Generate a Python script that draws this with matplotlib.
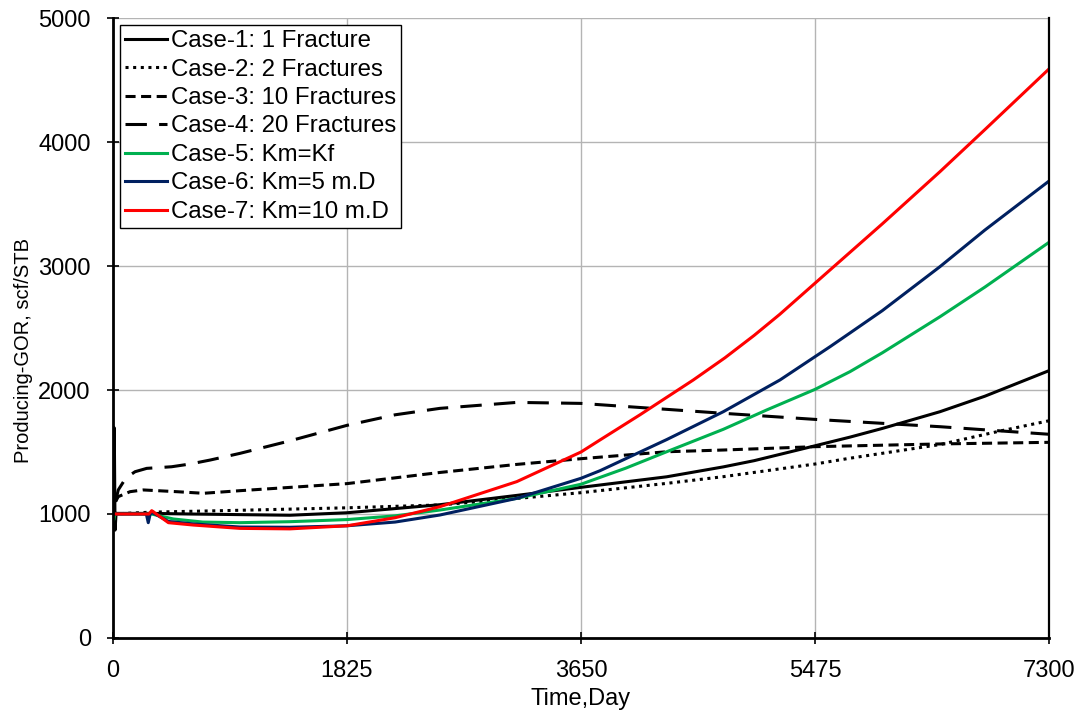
import matplotlib
matplotlib.use('Agg')
import matplotlib.pyplot as plt

plt.rcParams['font.family'] = ['Liberation Sans', 'DejaVu Sans']

# Case-1: 1 Fracture (solid black, with the start-up spike)
t_case1 = [0, 6, 10, 16, 24, 300, 600, 990, 1380, 1825, 2550, 3149, 3650,
           4318, 4760, 5000, 5475, 5748, 6000, 6450, 6800, 7300]
gor_case1 = [1000, 1700, 1690, 870, 1005, 1005, 1000, 995, 990, 1010, 1075,
             1150, 1215, 1300, 1380, 1430, 1550, 1620, 1690, 1825, 1950, 2156]

# Case-2: 2 Fractures (dotted)
t_case2 = [0, 300, 990, 1825, 2550, 3149, 3650, 4318, 4760, 5475, 5748, 6450,
           6900, 7300]
gor_case2 = [1000, 1015, 1030, 1050, 1073, 1125, 1172, 1247, 1301, 1403, 1450,
             1560, 1665, 1752]

# Case-3: 10 Fractures (short dash)
t_case3 = [20, 41, 133, 236, 497, 705, 990, 1825, 2550, 3149, 3650, 4318,
           4760, 5475, 6450, 7300]
gor_case3 = [1100, 1140, 1180, 1194, 1180, 1167, 1188, 1245, 1335, 1400, 1446,
             1502, 1516, 1543, 1565, 1578]

# Case-4: 20 Fractures (long dash)
t_case4 = [20, 41, 100, 172, 263, 457, 600, 757, 990, 1380, 1825, 2200, 2550,
           3149, 3650, 4318, 4760, 5475, 6450, 7300]
gor_case4 = [1100, 1194, 1290, 1341, 1368, 1381, 1403, 1435, 1489, 1590, 1715,
             1800, 1852, 1900, 1892, 1844, 1812, 1763, 1704, 1643]

# Case-5: Km=Kf (green)
t_case5 = [0, 5, 15, 300, 470, 700, 990, 1380, 1825, 2200, 2550, 3149, 3650,
           4000, 4318, 4760, 5098, 5475, 5748, 6000, 6450, 6800, 7300]
gor_case5 = [1000, 950, 1000, 1000, 960, 935, 930, 938, 955, 985, 1032, 1126,
             1240, 1370, 1502, 1683, 1839, 2005, 2148, 2300, 2591, 2830, 3191]

# Case-6: Km=5 m.D (navy)
t_case6 = [0, 260, 275, 290, 310, 432, 626, 990, 1380, 1825, 2200, 2550, 3149,
           3650, 3798, 4318, 4760, 5202, 5592, 5748, 6000, 6450, 6800, 7300]
gor_case6 = [1000, 1000, 930, 1000, 1010, 940, 920, 895, 893, 905, 935, 992,
             1126, 1288, 1349, 1600, 1825, 2081, 2349, 2460, 2640, 2995, 3290,
             3685]

# Case-7: Km=10 m.D (red)
t_case7 = [0, 280, 302, 432, 626, 990, 1380, 1825, 2200, 2550, 3149, 3650,
           3798, 4110, 4526, 4773, 5000, 5200, 5592, 6000, 6450, 6800, 7300]
gor_case7 = [1000, 1000, 1027, 930, 911, 884, 880, 905, 970, 1059, 1261, 1500,
             1597, 1800, 2081, 2260, 2440, 2610, 2968, 3340, 3761, 4100, 4589]

x_ticks = [0, 1825, 3650, 5475, 7300]
y_ticks = [0, 1000, 2000, 3000, 4000, 5000]

fig = plt.figure(figsize=(10.83, 7.15), dpi=100)
ax = fig.add_axes([113 / 1083, 1 - 638 / 715, 936 / 1083, 620 / 715])

lw = 2.2
ax.plot(t_case1, gor_case1, color='black', lw=lw, label='Case-1: 1 Fracture')
ax.plot(t_case2, gor_case2, color='black', lw=lw, linestyle=(0, (1, 1.5)),
        label='Case-2: 2 Fractures')
ax.plot(t_case3, gor_case3, color='black', lw=lw, linestyle=(0, (3.3, 1.8)),
        label='Case-3: 10 Fractures')
ax.plot(t_case4, gor_case4, color='black', lw=lw, linestyle=(0, (7, 4)),
        label='Case-4: 20 Fractures')
ax.plot(t_case5, gor_case5, color='#00B050', lw=lw, label='Case-5: Km=Kf')
ax.plot(t_case6, gor_case6, color='#002060', lw=lw, label='Case-6: Km=5 m.D')
ax.plot(t_case7, gor_case7, color='#FF0000', lw=lw, label='Case-7: Km=10 m.D')

ax.set_xlim(0, 7300)
ax.set_ylim(0, 5000)
ax.set_xticks(x_ticks)
ax.set_yticks(y_ticks)
ax.grid(True, color='#B4B4B4', lw=1.0)
ax.set_axisbelow(True)

for side in ['left', 'bottom']:
    ax.spines[side].set_linewidth(2.0)
ax.spines['right'].set_linewidth(1.6)
ax.spines['top'].set_visible(False)

ax.tick_params(direction='inout', length=8, width=1.2, labelsize=17, pad=12)

ax.set_xlabel('Time,Day', fontsize=17, labelpad=4)
ax.set_ylabel('Producing-GOR, scf/STB', fontsize=14.5)
ax.yaxis.set_label_coords(-0.086, 0.463)

leg = ax.legend(loc='upper left', fontsize=17.3, frameon=True, fancybox=False,
                edgecolor='black', framealpha=1, handlelength=1.75,
                handletextpad=0.15, labelspacing=0.27, borderpad=0.2,
                borderaxespad=0.3)
leg.get_frame().set_linewidth(1.0)

fig.savefig('out.png', dpi=100)
